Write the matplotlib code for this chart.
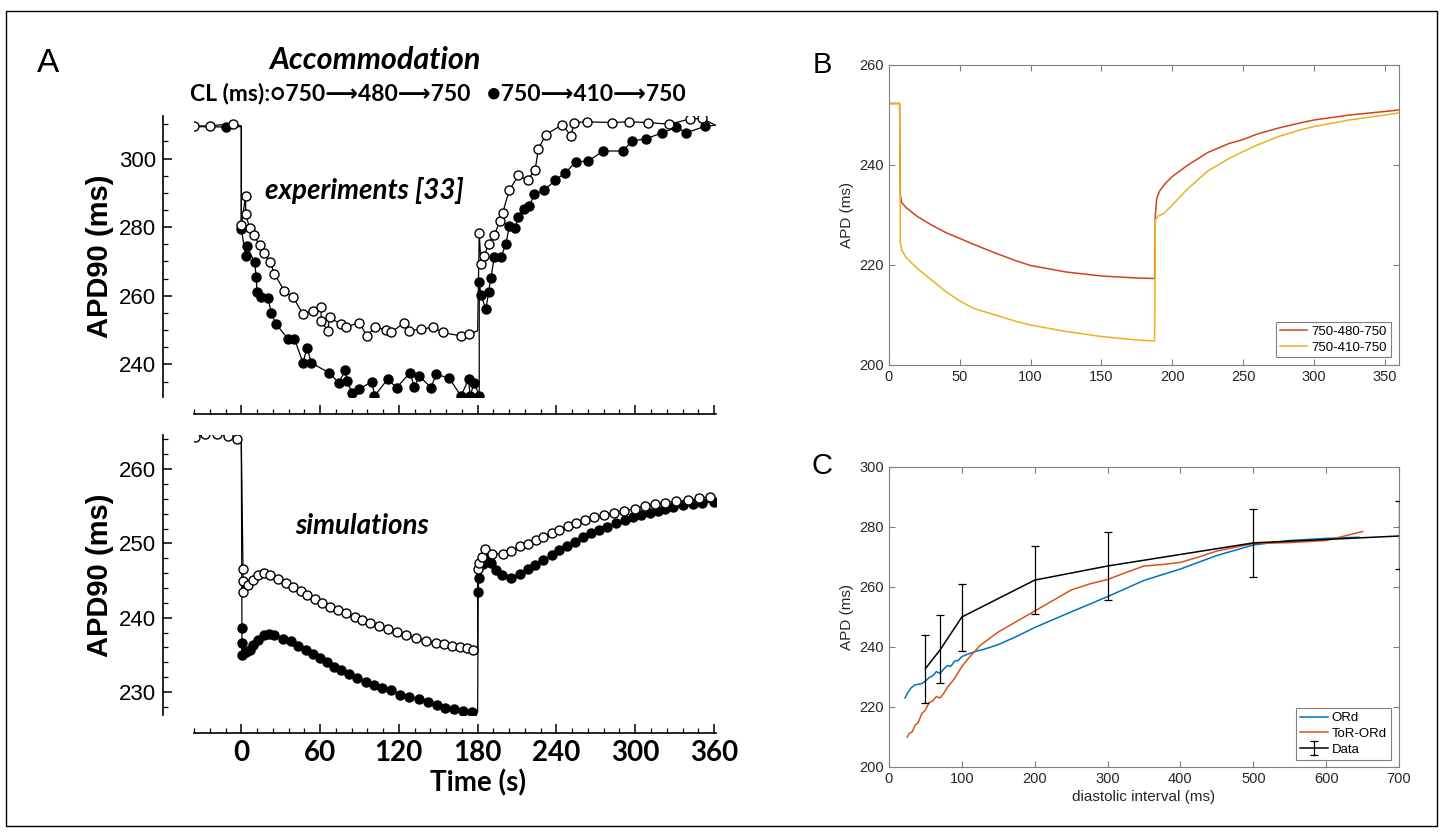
import matplotlib
matplotlib.use("Agg")
import matplotlib.pyplot as plt
from matplotlib.patches import Rectangle
from matplotlib.ticker import MultipleLocator, FixedLocator
import numpy as np

# ---------------- Panel A : experiments ----------------
exp_open_t = [-36.2, -23.6, -6.4, 0.0, 3.3, 3.3, 6.3, 9.4, 13.9, 17.0, 22.0, 25.3, 32.9, 39.3,
              46.9, 54.5, 60.8, 60.8, 65.9, 67.2, 76.0, 79.9, 90.0, 95.5, 102.1, 110.3, 114.1,
              124.2, 128.0, 136.9, 145.7, 153.3, 167.3, 173.6, 181.2, 182.5, 185.0, 188.3, 192.6,
              197.0, 199.0, 204.0, 211.1, 218.0, 223.8, 226.3, 232.0, 244.6, 251.0, 253.5, 263.6,
              282.6, 295.3, 310.0, 325.7, 341.5, 351.1]
exp_open_v = [309.5, 309.5, 310.2, 280.5, 289.0, 283.9, 279.8, 277.6, 274.9, 272.4, 269.8, 266.4,
              261.3, 259.7, 254.7, 255.6, 256.6, 252.7, 249.8, 253.7, 251.7, 250.9, 252.2, 248.3,
              250.9, 250.0, 249.3, 252.2, 249.8, 250.3, 250.8, 249.3, 248.3, 248.8, 278.2, 269.3,
              271.7, 275.1, 277.6, 281.8, 284.1, 290.7, 295.1, 293.7, 296.8, 302.9, 307.0, 309.9,
              306.6, 310.5, 310.7, 310.5, 310.7, 310.5, 310.0, 311.5, 311.7]
exp_open_corner_t = [0.0, 180.0, 361.0]
exp_open_corner_v = [309.5, 249.8, 309.7]

exp_fill_t = [-11.4, 0.0, 3.3, 4.3, 10.1, 11.4, 11.9, 15.2, 20.3, 22.8, 26.6, 35.5, 40.5, 46.9,
              50.2, 53.2, 66.6, 74.2, 79.3, 80.3, 84.4, 89.4, 99.6, 101.4, 111.5, 118.3, 128.5,
              131.8, 135.6, 144.5, 148.3, 158.4, 167.3, 173.1, 174.2, 177.4, 181.2, 181.2, 182.5,
              186.3, 188.3, 190.1, 192.6, 197.7, 201.5, 204.0, 208.6, 211.1, 215.5, 219.3, 223.1,
              230.7, 239.0, 246.6, 254.8, 264.4, 275.5, 290.7, 297.4, 308.5, 320.6, 331.3, 338.9,
              353.1]
exp_fill_v = [309.2, 279.5, 271.7, 274.4, 269.8, 265.6, 261.0, 259.7, 259.5, 254.9, 251.7, 247.5,
              247.5, 240.5, 244.9, 240.5, 237.6, 234.7, 238.3, 235.2, 231.8, 232.7, 235.0, 230.8,
              235.7, 233.2, 237.6, 233.4, 236.6, 233.2, 237.1, 236.0, 230.8, 235.7, 230.8, 234.7,
              230.8, 263.9, 260.3, 256.1, 261.0, 265.2, 271.2, 271.2, 275.1, 280.2, 279.8, 283.1,
              285.4, 286.1, 289.6, 290.7, 293.7, 295.8, 299.0, 299.3, 302.2, 302.2, 305.1, 305.8,
              307.5, 309.1, 307.5, 309.4]
exp_fill_corner_t = [-36.0, 0.0, 361.0]
exp_fill_corner_v = [309.3, 309.3, 309.7]

# ---------------- Panel A : simulations ----------------
sim_open_t = [-35.6, -27.3, -18.4, -10.4, -3.3, 1.3, 1.3, 1.3, 4.8, 8.6, 13.1, 17.5, 22.0, 28.2,
              33.8, 39.6, 45.2, 50.2, 56.0, 61.8, 67.9, 73.7, 80.0, 86.3, 92.1, 97.7, 104.7,
              111.5, 118.3, 125.4, 133.0, 140.6, 148.1, 154.5, 160.5, 166.5, 172.0, 176.5,
              180.0, 180.9, 183.0, 185.5, 191.0, 199.3, 205.7, 212.0, 218.2, 224.3, 230.1,
              236.4, 242.0, 248.5, 254.9, 261.7, 268.7, 276.3, 283.9, 291.4, 299.5, 307.1,
              315.1, 323.0, 331.0, 339.9, 348.7, 357.1]
sim_open_v = [264.3, 264.7, 264.7, 264.5, 264.1, 246.5, 243.4, 244.9, 244.4, 245.1, 245.8, 246.0,
              245.8, 245.2, 244.7, 244.2, 243.6, 243.1, 242.5, 242.0, 241.5, 241.0, 240.6, 240.1,
              239.7, 239.3, 238.9, 238.5, 238.1, 237.7, 237.3, 236.9, 236.6, 236.4, 236.2, 236.0,
              235.9, 235.7, 246.5, 247.4, 248.2, 249.2, 248.6, 248.6, 249.0, 249.6, 249.9, 250.5,
              250.9, 251.4, 251.8, 252.3, 252.8, 253.1, 253.5, 253.8, 254.1, 254.4, 254.7, 255.0,
              255.3, 255.5, 255.7, 255.8, 256.1, 256.3]
sim_open_corner_t = [0.0, 180.0]
sim_open_corner_v = [264.1, 235.8]

sim_fill_t = [0.5, 0.5, 0.5, 3.8, 6.3, 9.3, 13.1, 17.4, 21.0, 25.0, 32.0, 37.6, 43.4, 49.0, 54.3,
              59.8, 65.3, 70.6, 76.2, 82.0, 88.0, 94.6, 100.9, 107.3, 114.1, 120.9, 127.9, 135.5,
              142.5, 149.4, 155.5, 162.0, 168.5, 175.5, 180.4, 180.9, 184.0, 188.0, 190.5, 194.0,
              198.6, 205.7, 212.5, 218.2, 223.8, 230.1, 236.4, 242.0, 247.8, 254.1, 260.4, 266.2,
              272.3, 278.8, 285.6, 292.0, 298.3, 304.5, 310.9, 317.2, 323.0, 328.5, 336.1, 343.7,
              351.2, 359.6]
sim_fill_v = [238.6, 235.0, 236.6, 235.4, 235.7, 236.3, 237.0, 237.7, 237.8, 237.7, 237.2, 236.8,
              236.2, 235.7, 235.1, 234.6, 234.0, 233.4, 232.9, 232.4, 231.9, 231.4, 231.0, 230.5,
              230.2, 229.6, 229.3, 229.0, 228.6, 228.2, 227.9, 227.7, 227.5, 227.3, 243.5, 245.4,
              247.2, 248.0, 247.3, 246.4, 245.8, 245.4, 245.9, 246.5, 247.1, 247.8, 248.4, 249.1,
              249.7, 250.2, 250.8, 251.4, 251.8, 252.2, 252.7, 253.1, 253.5, 253.8, 254.1, 254.4,
              254.6, 254.9, 255.2, 255.3, 255.4, 255.6]
sim_fill_corner_t = [0.0, 180.0]
sim_fill_corner_v = [264.1, 227.3]

time_ticks = [0, 60, 120, 180, 240, 300, 360]

# ---------------- Panel B ----------------
b_red_t = [0, 7.5, 8.0, 9, 12, 20, 30, 40, 50, 60, 75, 90, 100, 125, 150, 175, 187.5, 188,
           189, 191, 195, 200, 210, 225, 240, 250, 260, 275, 290, 300, 325, 350, 360]
b_red_v = [252.3, 252.3, 234.0, 232.5, 231.5, 229.7, 228.0, 226.5, 225.3, 224.1, 222.4, 220.8,
           219.9, 218.6, 217.8, 217.4, 217.3, 230.0, 233.3, 234.8, 236.3, 237.7, 239.8, 242.5,
           244.3, 245.1, 246.2, 247.4, 248.4, 249.0, 250.0, 250.7, 251.0]
b_yel_t = [0, 7.5, 8.0, 9, 12, 20, 30, 40, 50, 60, 75, 90, 100, 125, 150, 175, 187.5, 188, 190,
           194, 200, 210, 225, 240, 250, 260, 275, 290, 300, 325, 350, 360]
b_yel_v = [252.3, 252.3, 224.5, 223.0, 221.5, 219.3, 217.0, 214.7, 212.8, 211.3, 210.0, 208.7,
           208.0, 206.7, 205.7, 205.0, 204.8, 229.0, 229.8, 230.3, 232.0, 235.0, 238.8, 241.3,
           242.7, 244.0, 245.7, 247.0, 247.7, 249.0, 250.0, 250.4]
b_labels = ["750-480-750", "750-410-750"]

# ---------------- Panel C ----------------
c_ord_x = [22, 25, 30, 35, 40, 45, 50, 55, 60, 65, 70, 75, 80, 85, 90, 95, 100, 110, 120, 130,
           150, 175, 200, 250, 300, 350, 400, 450, 500, 550, 600, 645]
c_ord_y = [223.0, 224.5, 226.3, 227.3, 227.6, 227.8, 228.6, 229.8, 230.4, 231.8, 231.2, 232.6,
           233.8, 233.6, 235.3, 235.5, 236.8, 237.8, 238.6, 239.2, 240.8, 243.5, 246.5, 251.7,
           256.8, 262.2, 266.0, 270.5, 274.0, 275.5, 276.2, 276.6]
c_tor_x = [25, 28, 32, 36, 40, 45, 50, 55, 60, 65, 70, 75, 80, 90, 100, 110, 125, 150, 175, 200,
           225, 250, 275, 300, 325, 350, 375, 400, 425, 450, 500, 550, 600, 625, 650]
c_tor_y = [210.0, 211.2, 211.8, 214.0, 214.8, 217.8, 219.0, 221.5, 222.0, 223.5, 223.0, 224.5,
           226.5, 229.5, 233.5, 236.5, 240.5, 245.0, 248.5, 252.0, 255.5, 259.0, 261.0, 262.5,
           264.8, 267.0, 267.5, 268.2, 270.0, 272.0, 274.5, 274.8, 275.5, 277.0, 278.5]
c_data_x = [50, 70, 100, 200, 300, 500, 700]
c_data_y = [232.8, 239.0, 250.0, 262.3, 267.0, 274.7, 277.0]
c_data_lo = [221.3, 228.0, 238.6, 250.9, 255.6, 263.3, 265.9]
c_data_hi = [244.0, 250.6, 260.9, 273.6, 278.3, 286.0, 288.6]
c_labels = ["ORd", "ToR-ORd", "Data"]

# ======================================================
W, H = 1444, 834
fig = plt.figure(figsize=(W / 100, H / 100), dpi=100)
fig.patch.set_facecolor("white")


def fr(x0, y0, x1, y1):
    return [x0 / W, 1 - y1 / H, (x1 - x0) / W, (y1 - y0) / H]


def merged(t, v, ct, cv):
    t = list(t)
    v = list(v)
    for a, b in zip(ct, cv):
        idx = len(t)
        for i, tt in enumerate(t):
            if tt >= a:
                idx = i
                break
        t.insert(idx, a)
        v.insert(idx, b)
    return t, v


BOLD = ["Lato", "DejaVu Sans"]
ARIAL = ["Liberation Sans", "DejaVu Sans"]


def style_A(ax, ylim, ymaj, ymin, left_out, bottom_out, labels):
    ax.set_xlim(-36, 361.5)
    ax.set_ylim(*ylim)
    for s in ("top", "right"):
        ax.spines[s].set_visible(False)
    ax.spines["left"].set_position(("outward", left_out))
    ax.spines["bottom"].set_position(("outward", bottom_out))
    for s in ("left", "bottom"):
        ax.spines[s].set_linewidth(1.2)
    ax.xaxis.set_major_locator(FixedLocator(time_ticks))
    ax.xaxis.set_minor_locator(MultipleLocator(12))
    ax.yaxis.set_major_locator(MultipleLocator(ymaj))
    ax.yaxis.set_minor_locator(MultipleLocator(ymin))
    ax.tick_params(which="major", direction="in", length=6.5, width=1.1)
    ax.tick_params(which="minor", direction="in", length=3.5, width=0.9)
    ax.tick_params(axis="y", labelsize=16, pad=5)
    for lab in ax.get_yticklabels():
        lab.set_family(ARIAL)
    if labels:
        ax.set_xticks(time_ticks)
        ax.set_xticklabels([str(t) for t in time_ticks], fontfamily=BOLD,
                           fontweight="bold", fontsize=20)
        ax.tick_params(axis="x", pad=5)
    else:
        ax.tick_params(axis="x", labelbottom=False)


def draw_series(ax, t, v, ct, cv, filled):
    lt, lv = merged(t, v, ct, cv)
    ax.plot(lt, lv, color="black", lw=0.9, zorder=2)
    ax.plot(t, v, ls="none", marker="o", ms=6.5, mew=1.0, mec="black",
            mfc="black" if filled else "white", zorder=3 if filled else 4)


# --- A top
axA1 = fig.add_axes(fr(194, 116, 716, 397))
draw_series(axA1, exp_fill_t, exp_fill_v, exp_fill_corner_t, exp_fill_corner_v, True)
draw_series(axA1, exp_open_t, exp_open_v, exp_open_corner_t, exp_open_corner_v, False)
style_A(axA1, (230.5, 312.4), 20, 5, 22.5, 12.2, False)
axA1.text(265 / W, 1 - 191 / H, "experiments [33]", transform=fig.transFigure,
          fontfamily=BOLD, fontweight="bold", fontstyle="italic", fontsize=20,
          va="center", ha="left")

# --- A bottom
axA2 = fig.add_axes(fr(194, 435, 716, 715))
draw_series(axA2, sim_fill_t, sim_fill_v, sim_fill_corner_t, sim_fill_corner_v, True)
draw_series(axA2, sim_open_t, sim_open_v, sim_open_corner_t, sim_open_corner_v, False)
style_A(axA2, (226.9, 264.6), 10, 2, 22.0, 13.2, True)
axA2.text(295 / W, 1 - 526 / H, "simulations", transform=fig.transFigure,
          fontfamily=BOLD, fontweight="bold", fontstyle="italic", fontsize=20,
          va="center", ha="left")

fig.text(478 / W, 1 - 783 / H, "Time (s)", fontfamily=BOLD, fontweight="bold",
         fontsize=20, ha="center", va="center")
fig.text(100 / W, 1 - 256 / H, "APD90 (ms)", fontfamily=ARIAL, fontweight="bold",
         fontsize=21, rotation=90, ha="center", va="center")
fig.text(100 / W, 1 - 575 / H, "APD90 (ms)", fontfamily=ARIAL, fontweight="bold",
         fontsize=21, rotation=90, ha="center", va="center")

fig.text(375 / W, 1 - 60 / H, "Accommodation", fontfamily=BOLD, fontweight="bold",
         fontstyle="italic", fontsize=22, ha="center", va="center")
fig.text(190 / W, 1 - 93 / H, "CL (ms):\u25CB750\u27F6480\u27F6750   \u25CF750\u27F6410\u27F6750",
         fontfamily=BOLD, fontweight="bold", fontsize=16.5, ha="left", va="center")
fig.text(48 / W, 1 - 63 / H, "A", fontfamily=ARIAL, fontsize=24, ha="center", va="center")
fig.text(822 / W, 1 - 65 / H, "B", fontfamily=ARIAL, fontsize=21, ha="center", va="center")
fig.text(822 / W, 1 - 466 / H, "C", fontfamily=ARIAL, fontsize=21, ha="center", va="center")

GRAY = "#262626"
EDGE = "#808080"


def style_matlab(ax):
    for s in ax.spines.values():
        s.set_color(EDGE)
        s.set_linewidth(0.8)
    ax.tick_params(direction="in", length=4, width=0.8, top=True, right=True,
                   color=EDGE, labelcolor=GRAY, labelsize=10.5)
    for lab in ax.get_xticklabels() + ax.get_yticklabels():
        lab.set_family(ARIAL)


LEG = dict(prop={"family": ARIAL, "size": 9.5}, fancybox=False, edgecolor=EDGE,
           framealpha=1, handlelength=2.1, borderpad=0.3, labelspacing=0.25,
           handletextpad=0.3, borderaxespad=0.0, loc="lower right",
           bbox_to_anchor=(0.984, 0.025))

# --- B
axB = fig.add_axes(fr(889, 65, 1399, 365))
axB.plot(b_red_t, b_red_v, color="#D2421C", lw=1.1, label=b_labels[0])
axB.plot(b_yel_t, b_yel_v, color="#EDB120", lw=1.1, label=b_labels[1])
axB.set_xlim(0, 360)
axB.set_ylim(200, 260)
axB.set_xticks([0, 50, 100, 150, 200, 250, 300, 350])
axB.set_yticks([200, 220, 240, 260])
style_matlab(axB)
axB.set_ylabel("APD (ms)", fontfamily=ARIAL, fontsize=11, color=GRAY, labelpad=4)
legB = axB.legend(**LEG)
legB.get_frame().set_linewidth(0.8)

# --- C
axC = fig.add_axes(fr(889, 467, 1399, 767))
axC.plot(c_ord_x, c_ord_y, color="#0072BD", lw=1.1, label=c_labels[0])
axC.plot(c_tor_x, c_tor_y, color="#D95319", lw=1.1, label=c_labels[1])
yerr = [np.array(c_data_y) - np.array(c_data_lo), np.array(c_data_hi) - np.array(c_data_y)]
axC.errorbar(c_data_x, c_data_y, yerr=yerr, color="black", lw=1.1, elinewidth=0.9,
             capsize=3, capthick=0.9, label=c_labels[2], zorder=3)
axC.set_xlim(0, 700)
axC.set_ylim(200, 300)
axC.set_xticks(range(0, 701, 100))
axC.set_yticks(range(200, 301, 20))
style_matlab(axC)
axC.set_ylabel("APD (ms)", fontfamily=ARIAL, fontsize=11, color=GRAY, labelpad=4)
axC.set_xlabel("diastolic interval (ms)", fontfamily=ARIAL, fontsize=11, color=GRAY,
               labelpad=3)
legC = axC.legend(**LEG)
legC.get_frame().set_linewidth(0.8)

# outer frame
fig.patches.append(Rectangle((6 / W, 1 - 826 / H), (1437 - 6) / W, (826 - 11) / H,
                             transform=fig.transFigure, fill=False, ec="black", lw=1.0))

fig.savefig("out.png", dpi=100, facecolor="white")
